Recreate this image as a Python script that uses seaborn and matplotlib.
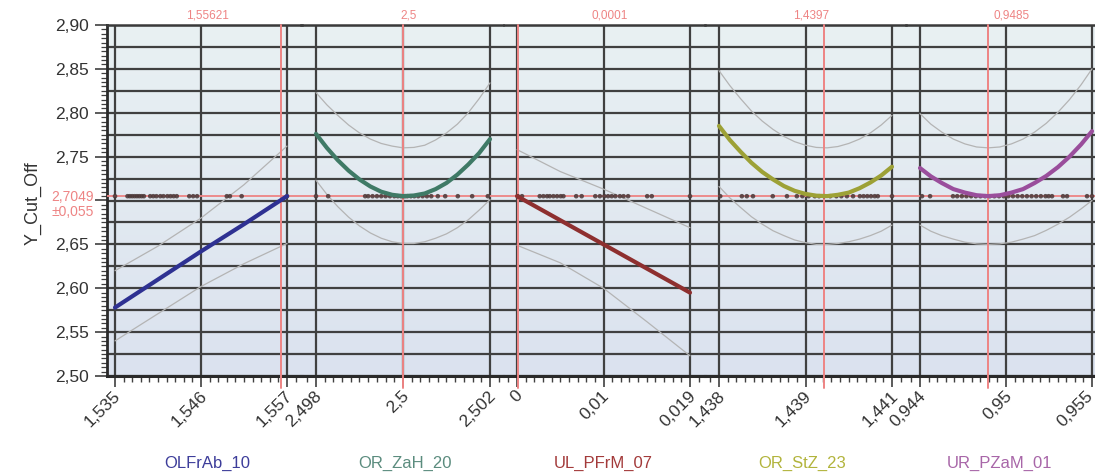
import numpy as np
import pandas as pd
import matplotlib
matplotlib.use("Agg")
import matplotlib.pyplot as plt
from matplotlib.colors import LinearSegmentedColormap
import seaborn as sns

# ---------------- data ----------------
factor_names = ["OLFrAb_10", "OR_ZaH_20", "UL_PFrM_07", "OR_StZ_23", "UR_PZaM_01"]
current_labels = ["1,55621", "2,5", "0,0001", "1,4397", "0,9485"]
current_values = [1.55621, 2.5, 0.0001, 1.4397, 0.9485]
x_ranges = [(1.535, 1.557), (2.498, 2.502), (0.0, 0.019), (1.4380, 1.4408), (0.9441, 0.9552)]
x_tick_labels = [["1,535", "1,546", "1,557"],
                 ["2,498", "2,5", "2,502"],
                 ["0", "0,01", "0,019"],
                 ["1,438", "1,439", "1,441"],
                 ["0,944", "0,95", "0,955"]]

y_current = 2.7049
y_current_label = "2,7049"
y_ci_label = "±0,055"
y_title = "Y_Cut_Off"
y_tick_values = [2.50, 2.55, 2.60, 2.65, 2.70, 2.75, 2.80, 2.85, 2.90]
y_tick_labels = ["2,50", "2,55", "2,60", "2,65", "", "2,75", "2,80", "2,85", "2,90"]

p1_x = [1.535, 1.5405, 1.546, 1.5515, 1.557]
p1_pred = [2.578, 2.610, 2.642, 2.673, 2.705]
p1_upper = [2.620, 2.648, 2.680, 2.718, 2.762]
p1_lower = [2.540, 2.571, 2.602, 2.628, 2.651]

p2_x = [2.498, 2.49825, 2.4985, 2.49875, 2.499, 2.49925, 2.4995, 2.49975, 2.500,
        2.50025, 2.5005, 2.50075, 2.501, 2.50125, 2.5015, 2.50175, 2.502]
p2_pred = [2.776, 2.760, 2.746, 2.734, 2.724, 2.716, 2.710, 2.7065, 2.705,
           2.7057, 2.708, 2.713, 2.720, 2.7295, 2.741, 2.754, 2.770]
p2_upper = [2.823, 2.809, 2.797, 2.786, 2.777, 2.770, 2.765, 2.762, 2.760,
            2.7605, 2.763, 2.769, 2.777, 2.787, 2.800, 2.816, 2.834]
p2_lower = [2.723, 2.707, 2.693, 2.681, 2.671, 2.663, 2.657, 2.653, 2.651,
            2.651, 2.653, 2.657, 2.662, 2.669, 2.678, 2.689, 2.701]

p3_x = [0.0, 0.00475, 0.0095, 0.01425, 0.019]
p3_pred = [2.705, 2.6775, 2.650, 2.6225, 2.595]
p3_upper = [2.758, 2.733, 2.713, 2.691, 2.669]
p3_lower = [2.649, 2.629, 2.600, 2.562, 2.523]

p4_x = [1.4380, 1.438175, 1.43835, 1.438525, 1.4387, 1.438875, 1.43905, 1.439225,
        1.4394, 1.439575, 1.43975, 1.439925, 1.4401, 1.440275, 1.44045, 1.440625, 1.4408]
p4_pred = [2.785, 2.769, 2.7555, 2.743, 2.7325, 2.724, 2.7165, 2.711,
           2.7075, 2.7055, 2.705, 2.7065, 2.709, 2.714, 2.7205, 2.7285, 2.7385]
p4_upper = [2.848, 2.831, 2.816, 2.802, 2.7905, 2.781, 2.773, 2.767,
            2.763, 2.7605, 2.760, 2.7615, 2.765, 2.770, 2.777, 2.786, 2.797]
p4_lower = [2.716, 2.703, 2.692, 2.6815, 2.673, 2.6655, 2.660, 2.655,
            2.652, 2.650, 2.650, 2.651, 2.653, 2.656, 2.660, 2.665, 2.672]

p5_x = [0.9441, 0.9448, 0.9455, 0.94625, 0.9470, 0.94775, 0.9485, 0.94925,
        0.9500, 0.95075, 0.9515, 0.95225, 0.9530, 0.95375, 0.9545, 0.9552]
p5_pred = [2.737, 2.7275, 2.720, 2.713, 2.709, 2.706, 2.705, 2.706,
           2.709, 2.713, 2.720, 2.728, 2.738, 2.750, 2.764, 2.779]
p5_upper = [2.799, 2.787, 2.778, 2.770, 2.7645, 2.761, 2.760, 2.761,
            2.7645, 2.770, 2.778, 2.788, 2.8005, 2.815, 2.832, 2.850]
p5_lower = [2.672, 2.665, 2.660, 2.656, 2.6525, 2.6506, 2.650, 2.6506,
            2.6525, 2.656, 2.660, 2.666, 2.673, 2.681, 2.6905, 2.700]

p1_dots = [1.535, 1.5366, 1.5369, 1.5372, 1.5375, 1.5378, 1.5381, 1.5384, 1.5387,
           1.5395, 1.5399, 1.5403, 1.5408, 1.5412, 1.5417, 1.5421, 1.5425, 1.5429,
           1.5445, 1.5450, 1.5455, 1.5493, 1.5497, 1.5512, 1.557]
p2_dots = [2.498, 2.49828, 2.49913, 2.4992, 2.4993, 2.4994, 2.4995, 2.4996, 2.4997,
           2.4998, 2.49988, 2.49995, 2.5, 2.50005, 2.5001, 2.50018, 2.50026, 2.50035,
           2.50045, 2.50055, 2.50065, 2.5008, 2.50097, 2.50126, 2.50159, 2.50195]
p3_dots = [0.0001, 0.00055, 0.0025, 0.0029, 0.0033, 0.0036, 0.0040, 0.0044, 0.0048,
           0.0051, 0.0065, 0.0071, 0.0086, 0.0091, 0.0096, 0.0100, 0.0104, 0.0108,
           0.0113, 0.0117, 0.0122, 0.0143, 0.0148, 0.019]
p4_dots = [1.43802, 1.43837, 1.43845, 1.43855, 1.43887, 1.4391, 1.43926, 1.43935,
           1.43945, 1.43955, 1.43962, 1.4397, 1.4398, 1.4399, 1.43998, 1.44007,
           1.44017, 1.44028, 1.44034, 1.4404, 1.44046, 1.44052, 1.44057, 1.4408]
p5_dots = [0.94423, 0.94475, 0.94623, 0.9465, 0.9468, 0.9471, 0.9474, 0.9477, 0.948,
           0.9483, 0.9486, 0.9489, 0.9492, 0.9495, 0.9498, 0.9501, 0.9504, 0.9507,
           0.951, 0.9513, 0.9516, 0.9519, 0.9522, 0.9524, 0.95262, 0.95333, 0.95359,
           0.95488, 0.9552]

panel_x = [p1_x, p2_x, p3_x, p4_x, p5_x]
panel_pred = [p1_pred, p2_pred, p3_pred, p4_pred, p5_pred]
panel_upper = [p1_upper, p2_upper, p3_upper, p4_upper, p5_upper]
panel_lower = [p1_lower, p2_lower, p3_lower, p4_lower, p5_lower]
panel_dots = [p1_dots, p2_dots, p3_dots, p4_dots, p5_dots]

# ---------------- style ----------------
curve_colors = ["#2E3192", "#3F7A66", "#8E2F2F", "#9DA136", "#9A4E9C"]
name_colors = ["#3D3D9A", "#5B8C7E", "#A33A3A", "#B2B43C", "#A866A8"]
red = "#EE8484"
grid_c = "#404040"
band_c = "#B4B4B4"
text_c = "#333333"

sns.set_theme(style="white")
plt.rcParams["font.family"] = ["Liberation Sans", "DejaVu Sans"]

W, H = 1095, 473
fig = plt.figure(figsize=(W / 100, H / 100), dpi=100)

def fx(px):
    return px / W

def fy(py):
    return 1 - py / H

plot_top, plot_bot = 25, 376
bounds = [107, 301.5, 503.5, 704.5, 906, 1106]
tick_L = [115, 316, 517, 719, 920]
tick_R = [287, 490, 690, 892, 1092]
name_px = [207, 405, 603, 802, 1000]

# background gradient
bg = fig.add_axes([fx(107), fy(plot_bot), fx(1106 - 107), (plot_bot - plot_top) / H])
grad = np.linspace(0, 1, 256).reshape(-1, 1)
cmap = LinearSegmentedColormap.from_list("bg", ["#E9F1F3", "#DBE2EF"])
bg.imshow(grad, extent=(0, 1, 0, 1), aspect="auto", cmap=cmap, origin="upper")
bg.set_axis_off()

grid_levels = np.arange(2.5, 2.9001, 0.025)

for i in range(5):
    A, B = bounds[i], bounds[i + 1]
    L, R = tick_L[i], tick_R[i]
    xmin, xmax = x_ranges[i]
    s = (xmax - xmin) / (R - L)
    ax = fig.add_axes([fx(A), fy(plot_bot), fx(B - A), (plot_bot - plot_top) / H])
    ax.patch.set_alpha(0)
    ax.set_xlim(xmin - (L - A) * s, xmax + (B - R) * s)
    ax.set_ylim(2.5, 2.9)

    for g in grid_levels:
        ax.axhline(g, color=grid_c, lw=1.6, zorder=1)
    mid = (xmin + xmax) / 2
    for t in (xmin, mid, xmax):
        ax.axvline(t, color=grid_c, lw=1.6, zorder=1)

    df = pd.DataFrame({"x": panel_x[i], "pred": panel_pred[i],
                       "upper": panel_upper[i], "lower": panel_lower[i]})
    sns.lineplot(data=df, x="x", y="upper", ax=ax, color=band_c, lw=0.9,
                 estimator=None, sort=False, zorder=2)
    sns.lineplot(data=df, x="x", y="lower", ax=ax, color=band_c, lw=0.9,
                 estimator=None, sort=False, zorder=2)

    ax.axhline(y_current, color=red, lw=1.3, zorder=3)
    ax.axvline(current_values[i], ymin=-0.035, ymax=1, color=red, lw=1.4,
               zorder=3, clip_on=False)

    dd = pd.DataFrame({"x": panel_dots[i], "y": [y_current] * len(panel_dots[i])})
    sns.scatterplot(data=dd, x="x", y="y", ax=ax, color="#4A3838", s=11,
                    edgecolor="none", zorder=4, alpha=0.85)

    sns.lineplot(data=df, x="x", y="pred", ax=ax, color=curve_colors[i], lw=3.0,
                 estimator=None, sort=False, zorder=5)

    ax.set_xlabel("")
    ax.set_ylabel("")
    ticks = [xmin, mid, xmax]
    ax.set_xticks(ticks)
    ax.set_xticklabels([])
    for k, (t, lab) in enumerate(zip(ticks, x_tick_labels[i])):
        dx = -7 if (i == 4 and k == 2) else -2
        ax.annotate(lab, xy=(t, 0), xycoords=("data", "axes fraction"),
                    xytext=(dx, -12), textcoords="offset pixels",
                    rotation=45, rotation_mode="anchor", ha="right", va="top",
                    fontsize=12.5, color=text_c, annotation_clip=False)
    step = (xmax - xmin) / 20
    minors = [xmin + step * k for k in range(-1, 22)]
    lo, hi = ax.get_xlim()
    ax.set_xticks([m for m in minors if lo <= m <= hi], minor=True)
    ax.tick_params(axis="x", which="major", length=8, width=1.2, color=grid_c,
                   direction="out", bottom=True)
    ax.tick_params(axis="x", which="minor", length=4, width=1.0, color=grid_c,
                   direction="out", bottom=True)

    for sp in ["left", "right"]:
        ax.spines[sp].set_visible(False)
    ax.spines["bottom"].set_color("#2A2A2A")
    ax.spines["bottom"].set_linewidth(2.2)
    ax.spines["top"].set_color("#3A3A3A")
    ax.spines["top"].set_linewidth(1.8)

    if i == 0:
        ax.spines["left"].set_visible(True)
        ax.spines["left"].set_color("#2A2A2A")
        ax.spines["left"].set_linewidth(2.0)
        ax.set_yticks(y_tick_values)
        ax.set_yticklabels(y_tick_labels, fontsize=12.5, color=text_c)
        ax.set_yticks(list(np.arange(2.5, 2.9001, 0.005)), minor=True)
        ax.tick_params(axis="y", which="major", length=9, width=1.2, color=grid_c,
                       pad=4, left=True, direction="out")
        ax.tick_params(axis="y", which="minor", length=4, width=0.9, color=grid_c,
                       left=True, direction="out")
    else:
        ax.set_yticks([])
        ax.tick_params(axis="y", which="both", left=False, labelleft=False)

    fig.text(fx((L + R) / 2 + 6), fy(15), current_labels[i], color=red,
             fontsize=8.5, ha="center", va="center")
    fig.text(fx(name_px[i]), fy(463), factor_names[i], color=name_colors[i],
             fontsize=12, ha="center", va="center")

fig.text(fx(94), fy(197), y_current_label, color=red, fontsize=10,
         ha="right", va="center")
fig.text(fx(94), fy(212), y_ci_label, color=red, fontsize=10,
         ha="right", va="center")
fig.text(fx(33), fy(203), y_title, color=text_c, fontsize=13, rotation=90,
         ha="center", va="center")

fig.savefig("out.png", dpi=100, facecolor="white")
